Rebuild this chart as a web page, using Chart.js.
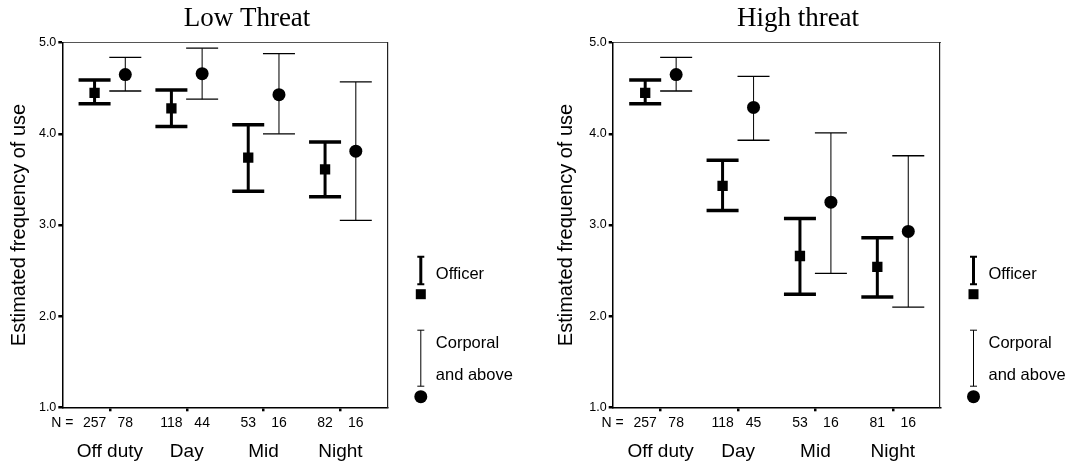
<!DOCTYPE html>
<html>
<head>
<meta charset="utf-8">
<script src="https://cdn.jsdelivr.net/npm/chart.js@4.4.0/dist/chart.umd.min.js"></script>
<style>
html, body { margin: 0; padding: 0; background: #fff; overflow: hidden; width: 1078px; height: 464px; }
canvas { position: absolute; top: 0; }
#lowChart { left: -50px; }
#highChart { left: 517px; }
</style>
</head>
<body>
<canvas id="lowChart" width="594" height="464"></canvas>
<canvas id="highChart" width="562" height="464"></canvas>
<script>
const groups = ["Off duty", "Day", "Mid", "Night"];
const yTicks = [1, 2, 3, 4, 5];

// low threat
const lowOfficerMean = [4.45, 4.28, 3.74, 3.61];
const lowOfficerLow = [4.33, 4.08, 3.37, 3.31];
const lowOfficerHigh = [4.59, 4.48, 4.10, 3.91];
const lowCorpMean = [4.65, 4.66, 4.43, 3.81];
const lowCorpLow = [4.47, 4.38, 4.00, 3.05];
const lowCorpHigh = [4.84, 4.94, 4.88, 4.57];
const lowOfficerN = [257, 118, 53, 82];
const lowCorpN = [78, 44, 16, 16];

// high threat
const highOfficerMean = [4.45, 3.43, 2.66, 2.54];
const highOfficerLow = [4.33, 3.16, 2.24, 2.21];
const highOfficerHigh = [4.59, 3.71, 3.07, 2.86];
const highCorpMean = [4.65, 4.29, 3.25, 2.93];
const highCorpLow = [4.47, 3.93, 2.47, 2.10];
const highCorpHigh = [4.84, 4.63, 4.01, 3.76];
const highOfficerN = [257, 118, 53, 81];
const highCorpN = [78, 45, 16, 16];

const X_MIN = -0.62, X_MAX = 3.61, OFF = 0.2;
const SANS = 'Arial, "Liberation Sans", sans-serif';
const SERIF = '"Liberation Serif", "Times New Roman", serif';

Chart.defaults.font.family = SANS;
Chart.defaults.color = "#000";

/* whisker segments, split by null points */
function whiskers(offset, lo, hi) {
    const pts = [];
    lo.forEach((v, i) => {
        pts.push({x: i + offset, y: v}, {x: i + offset, y: hi[i]}, {x: i + offset, y: null});
    });
    return pts;
}
function caps(offset, lo, hi) {
    return lo.flatMap((v, i) => [{x: i + offset, y: v}, {x: i + offset, y: hi[i]}]);
}
function means(offset, m) {
    return m.map((v, i) => ({x: i + offset, y: v}));
}

const keyPlugin = {
    id: "rankKey",
    afterDraw(chart, args, opts) {
        const {ctx, chartArea} = chart;
        const x = chartArea.right + opts.dx;
        const t = chartArea.top;
        ctx.save();
        ctx.strokeStyle = "#000";
        ctx.fillStyle = "#000";
        // officer
        ctx.lineWidth = 3;
        ctx.beginPath();
        ctx.moveTo(x, t + 214); ctx.lineTo(x, t + 241.5);
        ctx.stroke();
        ctx.lineWidth = 2;
        ctx.beginPath();
        ctx.moveTo(x - 3.5, t + 214); ctx.lineTo(x + 3.5, t + 214);
        ctx.moveTo(x - 3.5, t + 241.5); ctx.lineTo(x + 3.5, t + 241.5);
        ctx.stroke();
        ctx.fillRect(x - 5, t + 246.5, 10, 10);
        // corporal and above
        ctx.lineWidth = 1;
        ctx.beginPath();
        ctx.moveTo(x, t + 287.5); ctx.lineTo(x, t + 343.5);
        ctx.moveTo(x - 3.5, t + 287.5); ctx.lineTo(x + 3.5, t + 287.5);
        ctx.moveTo(x - 3.5, t + 343.5); ctx.lineTo(x + 3.5, t + 343.5);
        ctx.stroke();
        ctx.beginPath();
        ctx.arc(x, t + 354, 6.5, 0, Math.PI * 2);
        ctx.fill();
        // labels
        ctx.font = "16.5px " + SANS;
        ctx.textBaseline = "middle";
        ctx.textAlign = "left";
        ctx.fillText("Officer", x + 15, t + 231.5);
        ctx.fillText("Corporal", x + 15, t + 300.5);
        ctx.fillText("and above", x + 15, t + 332.5);
        ctx.restore();
    }
};

function drawPanel(id, p) {
    const nLabels = ["N ="];
    const nTicks = [X_MIN];
    groups.forEach((g, i) => {
        nTicks.push(i - OFF, i, i + OFF);
        nLabels.push(String(p.officerN[i]), "", String(p.corpN[i]));
    });

    new Chart(document.getElementById(id), {
        type: "scatter",
        data: {
            datasets: [
                {   // officer means
                    data: means(-OFF, p.officerMean),
                    pointStyle: "rect", pointRadius: 7.3,
                    backgroundColor: "#000", borderColor: "#000", pointBorderWidth: 0
                },
                {   // corporal means
                    data: means(OFF, p.corpMean),
                    pointStyle: "circle", pointRadius: 6.5,
                    backgroundColor: "#000", borderColor: "#000", pointBorderWidth: 0
                },
                {
                    data: caps(-OFF, p.officerLow, p.officerHigh),
                    pointStyle: "line", pointRadius: 16,
                    borderColor: "#000", pointBorderWidth: 3.5
                },
                {
                    data: caps(OFF, p.corpLow, p.corpHigh),
                    pointStyle: "line", pointRadius: 16,
                    borderColor: "#000", pointBorderWidth: 1.3
                },
                {
                    data: whiskers(-OFF, p.officerLow, p.officerHigh),
                    showLine: true, spanGaps: false, pointRadius: 0,
                    borderColor: "#000", borderWidth: 3
                },
                {
                    data: whiskers(OFF, p.corpLow, p.corpHigh),
                    showLine: true, spanGaps: false, pointRadius: 0,
                    borderColor: "#111", borderWidth: 1.1
                }
            ]
        },
        options: {
            responsive: false,
            animation: false,
            layout: { padding: 0 },
            plugins: {
                legend: { display: false },
                tooltip: { enabled: false },
                title: {
                    display: true,
                    text: p.title,
                    color: "#000",
                    font: { family: SERIF, size: 27, weight: "normal" },
                    padding: { top: 3, bottom: 7.3 }
                },
                rankKey: { dx: 33.5 }
            },
            scales: {
                x: {
                    type: "linear", position: "bottom", weight: 0,
                    min: X_MIN, max: X_MAX,
                    afterBuildTicks: axis => { axis.ticks = nTicks.map(v => ({value: v})); },
                    afterFit: axis => { axis.height = 24; },
                    ticks: {
                        autoSkip: false, maxRotation: 0, minRotation: 0, padding: 3,
                        font: { size: 14 },
                        callback: (v, i) => nLabels[i]
                    },
                    grid: {
                        drawOnChartArea: false, drawTicks: true, tickLength: 4, lineWidth: 2.5,
                        color: c => (c.tick && Number.isInteger(c.tick.value)) ? "#000" : "rgba(0,0,0,0)"
                    },
                    border: { display: true, color: "#000", width: 1.5 }
                },
                xg: {
                    type: "linear", position: "bottom", weight: 1,
                    min: X_MIN, max: X_MAX,
                    afterBuildTicks: axis => { axis.ticks = groups.map((g, i) => ({value: i})); },
                    afterFit: axis => { axis.height = 464 - 407.3 - 24; },
                    ticks: {
                        autoSkip: false, maxRotation: 0, minRotation: 0, padding: 9,
                        font: { size: 19 },
                        callback: (v, i) => groups[i]
                    },
                    grid: { display: false, drawTicks: false },
                    border: { display: false }
                },
                x2: {
                    type: "linear", position: "top",
                    min: X_MIN, max: X_MAX,
                    afterFit: axis => { axis.height = 0; },
                    ticks: { display: false },
                    grid: { drawOnChartArea: false, drawTicks: false },
                    border: { display: true, color: "#555", width: 1 }
                },
                y: {
                    type: "linear", position: "left",
                    min: 1, max: 5,
                    afterBuildTicks: axis => { axis.ticks = yTicks.map(v => ({value: v})); },
                    afterFit: axis => { axis.width = p.yWidth; },
                    ticks: {
                        padding: 2, font: { size: 12.5 },
                        callback: v => v.toFixed(1)
                    },
                    grid: { drawOnChartArea: false, drawTicks: true, tickLength: 4, lineWidth: 2.5, color: "#000" },
                    border: { display: true, color: "#000", width: 1.5 },
                    title: {
                        display: true,
                        text: "Estimated frequency of use",
                        color: "#000",
                        font: { size: 20 },
                        padding: { top: p.yTitlePad, bottom: 0 }
                    }
                },
                y2: {
                    type: "linear", position: "right",
                    min: 1, max: 5,
                    afterFit: axis => { axis.width = p.rightWidth; },
                    ticks: { display: false },
                    grid: { drawOnChartArea: false, drawTicks: false },
                    border: { display: true, color: "#222", width: 1.2 }
                }
            }
        },
        plugins: [keyPlugin]
    });
}

drawPanel("lowChart", {
    title: "Low Threat",
    officerMean: lowOfficerMean, officerLow: lowOfficerLow, officerHigh: lowOfficerHigh,
    corpMean: lowCorpMean, corpLow: lowCorpLow, corpHigh: lowCorpHigh,
    officerN: lowOfficerN, corpN: lowCorpN,
    yWidth: 112.3, rightWidth: 156.7, yTitlePad: 57
});

drawPanel("highChart", {
    title: "High threat",
    officerMean: highOfficerMean, officerLow: highOfficerLow, officerHigh: highOfficerHigh,
    corpMean: highCorpMean, corpLow: highCorpLow, corpHigh: highCorpHigh,
    officerN: highOfficerN, corpN: highCorpN,
    yWidth: 95.7, rightWidth: 139, yTitlePad: 37
});
</script>
</body>
</html>
